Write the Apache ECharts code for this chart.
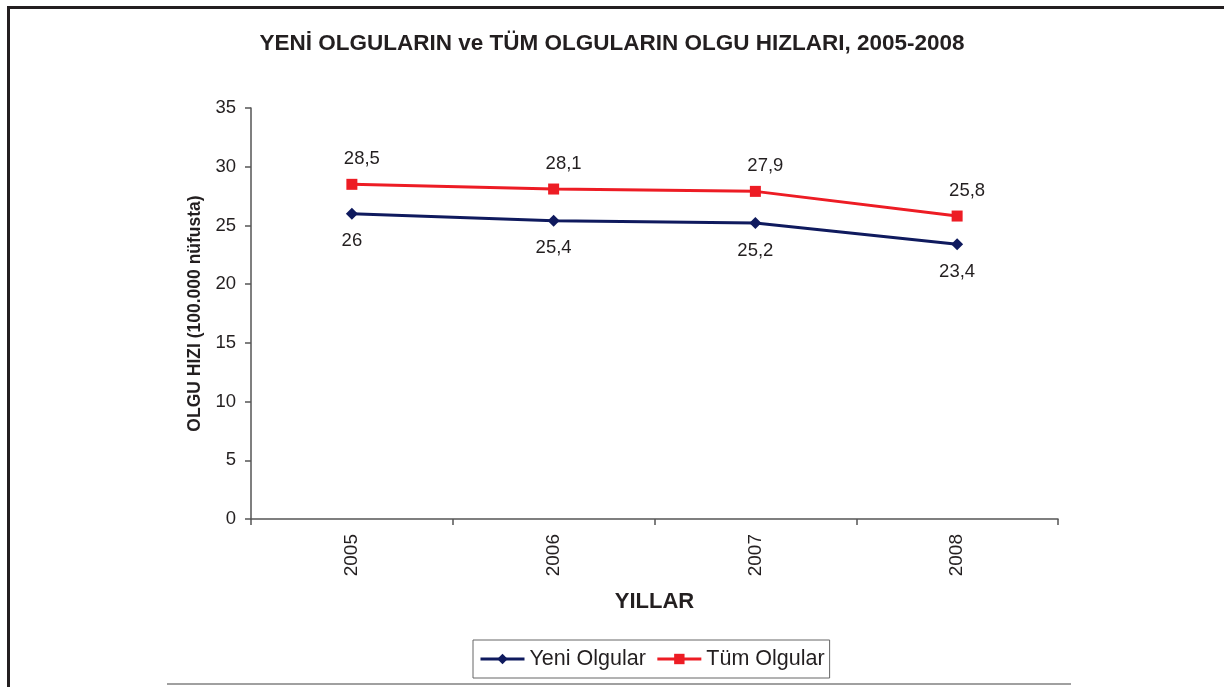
<!DOCTYPE html>
<html>
<head>
<meta charset="utf-8">
<script src="https://cdn.jsdelivr.net/npm/echarts@6/dist/echarts.min.js"></script>
<style>
  html, body { margin: 0; padding: 0; background: #fff; }
  #chart { width: 1224px; height: 687px; }
</style>
</head>
<body>
<div id="chart"></div>
<script>
// veriler
var years = ['2005', '2006', '2007', '2008'];
var yeniOlgular = [26, 25.4, 25.2, 23.4];
var tumOlgular = [28.5, 28.1, 27.9, 25.8];
var yTicks = [0, 5, 10, 15, 20, 25, 30, 35];

var textColor = '#231f20';
var font = 'Liberation Sans, Arial, sans-serif';

function virgul(p) {
  return String(p.value).replace('.', ',');
}

var option = {
  backgroundColor: '#fff',
  animation: false,
  textStyle: { fontFamily: font, color: textColor },
  title: {
    text: 'YENİ OLGULARIN ve TÜM OLGULARIN OLGU HIZLARI, 2005-2008',
    left: 'center',
    top: 27,
    textStyle: { fontSize: 22.5, fontWeight: 'bold', color: textColor, fontFamily: font }
  },
  grid: { left: 251, right: 166, top: 108, bottom: 168 },
  legend: {
    left: 473,
    top: 640,
    padding: [8, 5, 8, 6],
    itemGap: 10,
    itemWidth: 44,
    itemHeight: 13,
    borderColor: '#666',
    borderWidth: 1,
    borderRadius: 0,
    lineStyle: { width: 3 },
    textStyle: { fontSize: 21.5, color: textColor, fontFamily: font },
    data: ['Yeni Olgular', 'Tüm Olgular']
  },
  xAxis: {
    type: 'category',
    data: years,
    boundaryGap: true,
    name: 'YILLAR',
    nameLocation: 'middle',
    nameGap: 72,
    nameTextStyle: { fontSize: 22, fontWeight: 'bold', color: textColor, fontFamily: font },
    axisLine: { lineStyle: { color: '#555', width: 1.5 } },
    axisTick: { show: true, length: 6, lineStyle: { color: '#555', width: 1.5 } },
    axisLabel: { rotate: 90, fontSize: 19, color: textColor, margin: 15 }
  },
  yAxis: {
    type: 'value',
    min: yTicks[0],
    max: yTicks[yTicks.length - 1],
    interval: 5,
    name: 'OLGU HIZI (100.000 nüfusta)',
    nameLocation: 'middle',
    nameGap: 46,
    nameTextStyle: { fontSize: 17.5, fontWeight: 'bold', color: textColor, fontFamily: font },
    splitLine: { show: false },
    axisLine: { show: true, lineStyle: { color: '#555', width: 1.5 } },
    axisTick: { show: true, length: 6, lineStyle: { color: '#555', width: 1.5 } },
    axisLabel: { fontSize: 18.5, color: textColor, margin: 15 }
  },
  series: [
    {
      name: 'Yeni Olgular',
      type: 'line',
      data: yeniOlgular,
      symbol: 'diamond',
      symbolSize: 12,
      color: '#0f1a5e',
      lineStyle: { width: 3, color: '#0f1a5e' },
      itemStyle: { color: '#0f1a5e' },
      label: { show: true, position: 'bottom', distance: 12, fontSize: 18.5, color: textColor, formatter: virgul }
    },
    {
      name: 'Tüm Olgular',
      type: 'line',
      data: tumOlgular,
      symbol: 'rect',
      symbolSize: 11,
      color: '#ed1c24',
      lineStyle: { width: 3, color: '#ed1c24' },
      itemStyle: { color: '#ed1c24' },
      label: { show: true, position: 'top', distance: 10, offset: [10, 0], fontSize: 18.5, color: textColor, formatter: virgul }
    }
  ],
  graphic: [
    { type: 'line', shape: { x1: 7, y1: 7.5, x2: 1224, y2: 7.5 }, style: { stroke: '#231f20', lineWidth: 3 } },
    { type: 'line', shape: { x1: 8.5, y1: 6, x2: 8.5, y2: 687 }, style: { stroke: '#231f20', lineWidth: 3 } },
    { type: 'line', shape: { x1: 167, y1: 684, x2: 1071, y2: 684 }, style: { stroke: '#808080', lineWidth: 1.5 } }
  ]
};

echarts.init(document.getElementById('chart')).setOption(option);
</script>
</body>
</html>
